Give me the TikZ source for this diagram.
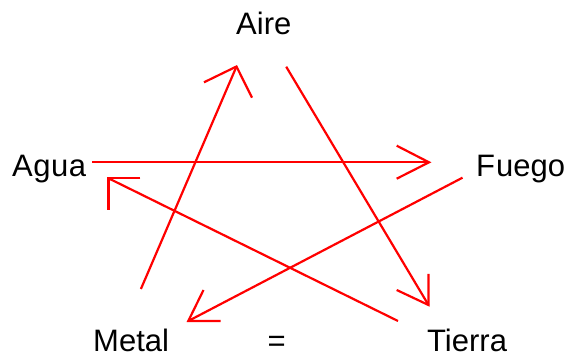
\documentclass[tikz,border=0pt]{standalone}
\usepackage{fontspec}
\setmainfont{Liberation Sans}
\begin{document}
\begin{tikzpicture}[x=1pt,y=-1pt,
  lbl/.style={anchor=base west,inner sep=0pt,font=\fontsize{31}{31}\selectfont},
  wire/.style={draw=red,line width=2.2pt}]
\useasboundingbox (0,0) rectangle (574,358);
\node[lbl] (aire) at (236,35) {Aire};
\node[lbl] (agua) at (12,177) {A\kern0.5pt g\kern0.5pt u\kern0.5pt a};
\node[lbl] (fuego) at (476,177) {F\kern1pt uego};
\node[lbl] (metal) at (93,352) {Metal};
\node[lbl] (eq) at (267.5,352) {=};
\node[lbl] (tierra) at (427,352) {Tierra};
% Metal -> Aire
\coordinate (s1) at (140.9,289);
\coordinate (t1) at (236.5,66.5);
\coordinate (a1) at (204,82.3);
\coordinate (b1) at (252,97.7);
% Agua -> Fuego
\coordinate (s2) at (92.3,162.3);
\coordinate (t2) at (429,162.3);
\coordinate (a2) at (396.7,145.7);
\coordinate (b2) at (396.7,178.7);
% Fuego -> Metal
\coordinate (s3) at (462.5,177.7);
\coordinate (t3) at (188.3,321);
\coordinate (a3) at (220.5,321);
\coordinate (b3) at (203.5,290);
% Tierra -> Agua
\coordinate (s4) at (398,321);
\coordinate (t4) at (108.5,178.3);
\coordinate (a4) at (140.3,178.3);
\coordinate (b4) at (108.5,210);
% Aire -> Tierra
\coordinate (s5) at (286.2,66.7);
\coordinate (t5) at (428.5,305);
\coordinate (a5) at (428.5,274);
\coordinate (b5) at (396.7,290);
\foreach \i in {1,...,5}{
  \draw[wire] (s\i) -- (t\i);
  \draw[wire] (a\i) -- (t\i) -- (b\i);
}
\end{tikzpicture}
\end{document}
